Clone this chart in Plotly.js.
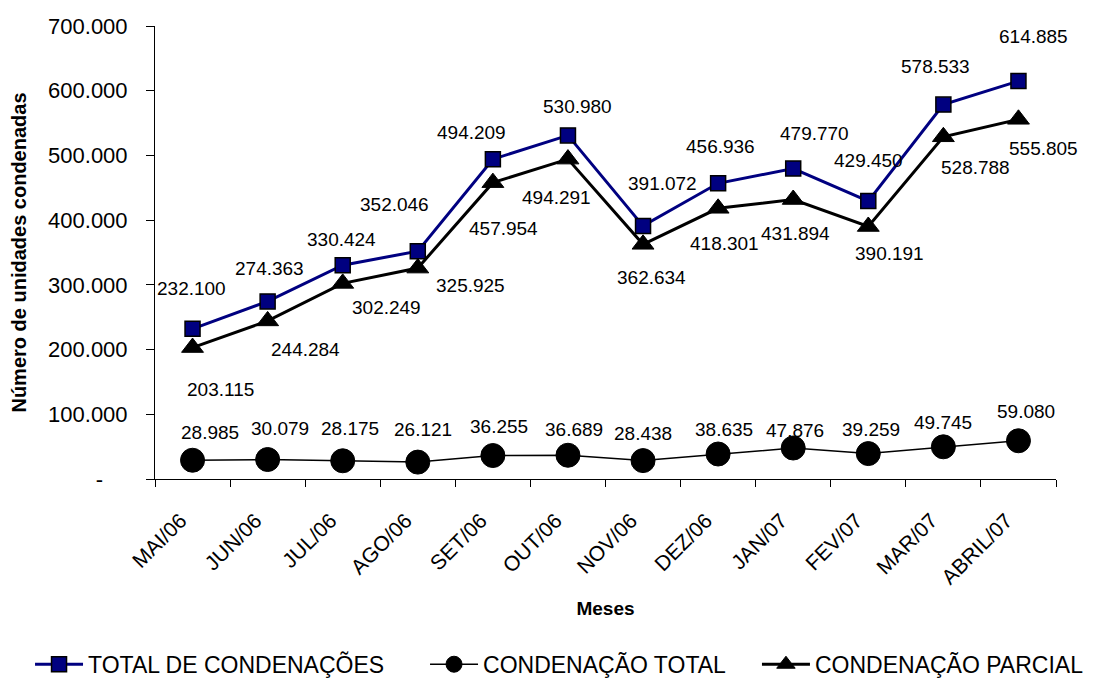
<!DOCTYPE html>
<html>
<head>
<meta charset="utf-8">
<script src="https://cdn.plot.ly/plotly-3.0.1.min.js"></script>
<style>html,body{margin:0;padding:0;background:#fff;}#chart{width:1099px;height:682px;}</style>
</head>
<body>
<div id="chart"></div>
<script>
const months = ["MAI/06","JUN/06","JUL/06","AGO/06","SET/06","OUT/06","NOV/06","DEZ/06","JAN/07","FEV/07","MAR/07","ABRIL/07"];
const totalCondenacoes = [232100, 274363, 330424, 352046, 494209, 530980, 391072, 456936, 479770, 429450, 578533, 614885];
const condenacaoTotal = [28985, 30079, 28175, 26121, 36255, 36689, 28438, 38635, 47876, 39259, 49745, 59080];
const condenacaoParcial = [203115, 244284, 302249, 325925, 457954, 494291, 362634, 418301, 431894, 390191, 528788, 555805];
const yTickVals = [0, 100000, 200000, 300000, 400000, 500000, 600000, 700000];
const yTickText = ["-\u00a0\u00a0\u00a0\u00a0", "100.000", "200.000", "300.000", "400.000", "500.000", "600.000", "700.000"];
const seriesNames = ["TOTAL DE CONDENAÇÕES", "CONDENAÇÃO TOTAL", "CONDENAÇÃO PARCIAL"];

// label placement offsets (px) : [dx, dy] screen
const offTotalDe = [[-1,-40],[2,-33],[-1,-26],[-23,-47],[-21,-27],[10,-29],[19,-42],[2,-37],[21,-35],[0,-41],[-8,-38],[15,-45]];
const offParcial = [[28,42],[38,29],[44,24],[53,17],[11,46],[-11,38],[8,33],[6,35],[2,34],[21,27],[32,31],[25,29]];
const offTotal = [[17,-28],[12,-31],[7,-32],[5,-33],[6,-29],[6,-26],[0,-27],[6,-25],[2,-18],[3,-24],[0,-24],[8,-29]];

const fmt = v => v.toLocaleString('de-DE');
const FONT = "Liberation Sans, Arial, sans-serif";

const traces = [
  {x: months, y: totalCondenacoes, name: seriesNames[0], type: 'scatter', mode: 'lines+markers', legend: 'legend',
   line: {color: '#000080', width: 3},
   marker: {symbol: 'square', size: 15, color: '#000080', line: {color: '#000000', width: 1.5}}},
  {x: months, y: condenacaoTotal, name: seriesNames[1], type: 'scatter', mode: 'lines+markers', legend: 'legend2',
   line: {color: '#000000', width: 1.5},
   marker: {symbol: 'circle', size: 24, color: '#000000', line: {color: '#000000', width: 1}}},
  {x: months, y: condenacaoParcial, name: seriesNames[2], type: 'scatter', mode: 'lines+markers', legend: 'legend3',
   line: {color: '#000000', width: 3},
   marker: {symbol: 'triangle-up', size: 19, color: '#000000', line: {color: '#000000', width: 1}}}
];

const annotations = [];
function addLabels(vals, offs) {
  vals.forEach((v, i) => {
    annotations.push({x: months[i], y: v, xref: 'x', yref: 'y', text: fmt(v), showarrow: false,
      xshift: offs[i][0], yshift: -offs[i][1], font: {family: FONT, size: 19, color: '#000'}});
  });
}
addLabels(totalCondenacoes, offTotalDe);
addLabels(condenacaoParcial, offParcial);
addLabels(condenacaoTotal, offTotal);

const legBase = {orientation: 'h', xanchor: 'left', y: -0.409, yanchor: 'middle', itemwidth: 48,
  font: {family: FONT, size: 23, color: '#000'}, bgcolor: 'rgba(0,0,0,0)'};

const layout = {
  width: 1099, height: 682,
  margin: {l: 155, r: 43, t: 26, b: 203, autoexpand: false},
  paper_bgcolor: '#fff', plot_bgcolor: '#fff',
  font: {family: FONT, color: '#000'},
  showlegend: true,
  legend: Object.assign({}, legBase, {x: -0.1387}),
  legend2: Object.assign({}, legBase, {x: 0.2997}),
  legend3: Object.assign({}, legBase, {x: 0.6681}),
  xaxis: {type: 'category', range: [-0.5, 11.5], showline: true, linecolor: '#000', linewidth: 1,
    ticks: 'outside', tickson: 'boundaries', ticklen: 7, tickcolor: '#000', tickangle: -45,
    ticklabelshift: -12, ticklabelstandoff: 20,
    showgrid: false, zeroline: false, tickfont: {family: FONT, size: 21, color: '#000'},
    title: {text: 'Meses', font: {family: FONT, size: 19, color: '#000', weight: 'bold'}, standoff: 14}},
  yaxis: {range: [0, 700000], tickvals: yTickVals, ticktext: yTickText, showline: true, linecolor: '#000', linewidth: 1,
    ticks: 'outside', ticklen: 8, tickcolor: '#000', showgrid: false, zeroline: false,
    tickfont: {family: FONT, size: 22, color: '#000'}, ticklabelstandoff: 14,
    title: {text: 'Número de unidades condenadas', font: {family: FONT, size: 20, color: '#000', weight: 'bold'}, standoff: 16}},
  annotations: annotations
};

Plotly.newPlot('chart', traces, layout, {staticPlot: true, displayModeBar: false});
</script>
</body>
</html>
